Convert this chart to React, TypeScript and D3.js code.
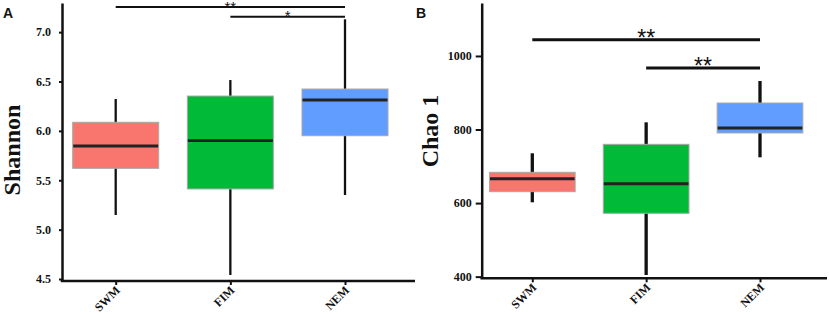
import React, { useEffect, useRef } from "react";
import * as d3 from "d3";

const groups = ["SWM", "FIM", "NEM"];
const colors = ["#F8766D", "#00BA38", "#619CFF"];

// Shannon (panel A): [min, q1, median, q3, max]
const shannonMin = [5.148, 4.541, 5.351];
const shannonQ1 = [5.621, 5.412, 5.951];
const shannonMed = [5.847, 5.901, 6.313];
const shannonQ3 = [6.087, 6.353, 6.424];
const shannonMax = [6.323, 6.515, 7.13];
const shannonTicks = [4.5, 5.0, 5.5, 6.0, 6.5, 7.0];
const shannonSig = [
  { from: "SWM", to: "NEM", y: 7.254, label: "**" },
  { from: "FIM", to: "NEM", y: 7.156, label: "*" },
];

// Chao 1 (panel B)
const chaoMin = [602.1, 404.5, 724.5];
const chaoQ1 = [631.0, 572.2, 790.6];
const chaoMed = [666.3, 652.7, 804.2];
const chaoQ3 = [683.7, 759.8, 872.1];
const chaoMax = [735.4, 819.6, 931.9];
const chaoTicks = [400, 600, 800, 1000];
const chaoSig = [
  { from: "SWM", to: "NEM", y: 1044.2, label: "**" },
  { from: "FIM", to: "NEM", y: 967.3, label: "**" },
];

const SERIF = "'Liberation Serif', 'Times New Roman', serif";
const SANS = "'Liberation Sans', Arial, sans-serif";

type Panel = {
  letter: string; letterX: number; title: string; titleX: number; titleY: number;
  axisX: number; xEnd: number; xRange: [number, number]; yDomain: [number, number];
  yRange: [number, number]; ticks: number[]; fmt: (d: number) => string;
  ytickSize: number; ytickPad: number; min: number[]; q1: number[]; med: number[];
  q3: number[]; max: number[]; boxW: number; whiskerW: number; medW: number;
  sig: { from: string; to: string; y: number; label: string }[];
  sigW: number; sigFs: number; sigDy: number;
};

const panels: Panel[] = [
  {
    letter: "A", letterX: 3, title: "Shannon", titleX: 20, titleY: 150,
    axisX: 62, xEnd: 415, xRange: [115.7, 345], yDomain: [4.48, 7.295], yRange: [281, 3],
    ticks: shannonTicks, fmt: d3.format(".1f"), ytickSize: 3, ytickPad: 8,
    min: shannonMin, q1: shannonQ1, med: shannonMed, q3: shannonQ3, max: shannonMax,
    boxW: 86, whiskerW: 2.3, medW: 2.8, sig: shannonSig, sigW: 2, sigFs: 15, sigDy: 4.7,
  },
  {
    letter: "B", letterX: 416, title: "Chao 1", titleX: 438, titleY: 131,
    axisX: 481.7, xEnd: 827, xRange: [532.3, 760], yDomain: [395.5, 1144], yRange: [278.3, 3],
    ticks: chaoTicks, fmt: d3.format("d"), ytickSize: 6, ytickPad: 4,
    min: chaoMin, q1: chaoQ1, med: chaoMed, q3: chaoQ3, max: chaoMax,
    boxW: 85.7, whiskerW: 3.3, medW: 3, sig: chaoSig, sigW: 3, sigFs: 23, sigDy: 6.2,
  },
];

function AxisY({ p }: { p: Panel }) {
  const ref = useRef<SVGGElement | null>(null);
  useEffect(() => {
    const y = d3.scaleLinear().domain(p.yDomain).range(p.yRange);
    const g = d3.select(ref.current);
    g.selectAll("*").remove();
    g.call(
      d3.axisLeft(y).tickValues(p.ticks).tickFormat((d: any) => p.fmt(d))
        .tickSize(p.ytickSize).tickSizeOuter(0).tickPadding(p.ytickPad) as any
    );
    g.select(".domain").attr("stroke", "#111").attr("stroke-width", 2.5);
    g.selectAll(".tick line").attr("stroke", "#111").attr("stroke-width", 2);
    g.selectAll(".tick text")
      .attr("font-family", SERIF).attr("font-weight", "bold")
      .attr("font-size", 12).attr("fill", "#111");
  }, [p]);
  return <g ref={ref} transform={`translate(${p.axisX},0)`} />;
}

function AxisX({ p }: { p: Panel }) {
  const ref = useRef<SVGGElement | null>(null);
  useEffect(() => {
    const x = d3.scalePoint<string>().domain(groups).range(p.xRange);
    const g = d3.select(ref.current);
    g.selectAll("*").remove();
    g.call(d3.axisBottom(x).tickSize(4).tickSizeOuter(0).tickFormat(() => "") as any);
    g.select(".domain").remove();
    g.selectAll(".tick line").attr("stroke", "#111").attr("stroke-width", 2);
    g.selectAll(".tick text").remove();
  }, [p]);
  return <g ref={ref} transform={`translate(0,${p.yRange[0]})`} />;
}

function PanelView({ p }: { p: Panel }) {
  const x = d3.scalePoint<string>().domain(groups).range(p.xRange);
  const y = d3.scaleLinear().domain(p.yDomain).range(p.yRange);
  const y0 = p.yRange[0];
  return (
    <g>
      {groups.map((grp, i) => (
        <line key={"w" + grp} x1={x(grp)} x2={x(grp)} y1={y(p.max[i])} y2={y(p.min[i])}
          stroke="#111" strokeWidth={p.whiskerW} />
      ))}
      {groups.map((grp, i) => {
        const cx = x(grp)!;
        return (
          <g key={"b" + grp}>
            <rect x={cx - p.boxW / 2} width={p.boxW} y={y(p.q3[i])}
              height={y(p.q1[i]) - y(p.q3[i])} fill={colors[i]} stroke="#a8a8a8" strokeWidth={1} />
            <line x1={cx - p.boxW / 2 + 0.5} x2={cx + p.boxW / 2 - 0.5}
              y1={y(p.med[i])} y2={y(p.med[i])} stroke="#222" strokeWidth={p.medW} />
          </g>
        );
      })}
      {p.sig.map((s, k) => {
        const x1 = x(s.from)!;
        const x2 = x(s.to)!;
        const yy = y(s.y);
        return (
          <g key={"s" + k}>
            <line x1={x1} x2={x2} y1={yy} y2={yy} stroke="#111" strokeWidth={p.sigW} />
            <text x={(x1 + x2) / 2} y={yy + p.sigDy} textAnchor="middle" fontFamily={SANS}
              fontSize={p.sigFs} fill="#111">{s.label}</text>
          </g>
        );
      })}
      <AxisY p={p} />
      <line x1={p.axisX - 1.25} x2={p.xEnd} y1={y0} y2={y0} stroke="#111" strokeWidth={2.5} />
      <AxisX p={p} />
      {groups.map((grp) => (
        <g key={"l" + grp} transform={`translate(${x(grp)! + 5},${y0 + 10})`}>
          <text transform="rotate(-45)" textAnchor="end" fontFamily={SERIF} fontWeight="bold"
            fontSize={12} fill="#111">{grp}</text>
        </g>
      ))}
      <g transform={`translate(${p.titleX},${p.titleY})`}>
        <text transform="rotate(-90)" textAnchor="middle" fontFamily={SERIF} fontWeight="bold"
          fontSize={24} fill="#111">{p.title}</text>
      </g>
      <text x={p.letterX} y={18} fontFamily={SANS} fontWeight="bold" fontSize={14} fill="#111">
        {p.letter}
      </text>
    </g>
  );
}

export default function App() {
  return (
    <svg width={829} height={314}
      style={{ position: "absolute", left: 0, top: 0, background: "#fff" }}>
      {panels.map((p) => <PanelView key={p.letter} p={p} />)}
    </svg>
  );
}
